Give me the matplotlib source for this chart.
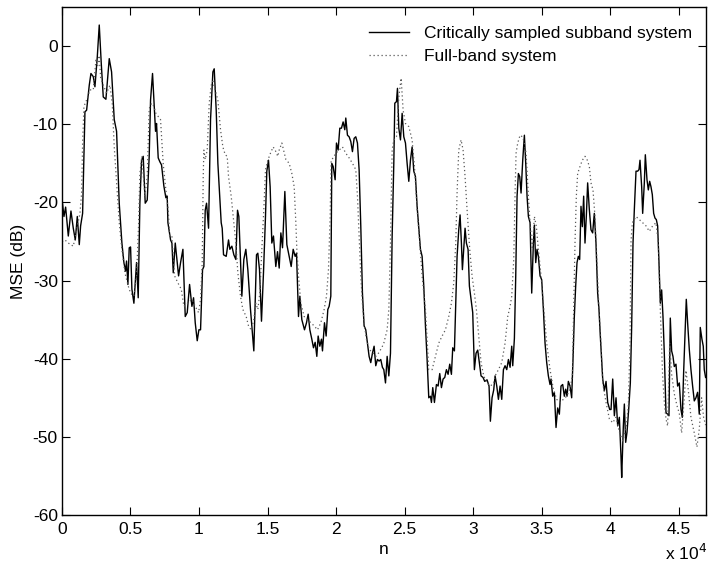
import numpy as np
import matplotlib
matplotlib.use("Agg")
from matplotlib import pyplot as plt
from matplotlib.ticker import FuncFormatter

plt.rcParams['font.family'] = ['Liberation Sans', 'DejaVu Sans']
plt.rcParams['axes.unicode_minus'] = False

# Critically sampled subband system (n, MSE dB)
sub_n = [0, 146, 267, 462, 656, 826, 972, 1118, 1263, 1361, 1506, 1677, 1798, 1992,
         2114, 2284, 2406, 2576, 2721, 2867, 3013, 3207, 3450, 3620, 3815, 3985, 4179,
         4374, 4520, 4641, 4714, 4811, 4908, 5006, 5103, 5249, 5443, 5564, 5686, 5808,
         5929, 6075, 6221, 6366, 6464, 6609, 6731, 6828, 6901, 7023, 7144, 7266, 7436,
         7582, 7679, 7732, 7926, 8024, 8121, 8267, 8510, 8655, 8826, 8996, 9141, 9312,
         9482, 9603, 9725, 9870, 9992, 10113, 10259, 10356, 10454, 10551, 10697, 10842,
         11013, 11110, 11256, 11377, 11620, 11693, 11790, 11985, 12155, 12252, 12398,
         12543, 12689, 12811, 12908, 13127, 13272, 13418, 13564, 13758, 14001, 14099,
         14196, 14293, 14415, 14560, 14706, 14852, 14949, 15071, 15192, 15314, 15435,
         15605, 15731, 15852, 15974, 16095, 16265, 16411, 16581, 16727, 16873, 17018,
         17116, 17261, 17359, 17504, 17699, 17845, 17966, 18088, 18233, 18355, 18476,
         18598, 18695, 18817, 18938, 19011, 19157, 19278, 19400, 19497, 19619, 19691,
         19789, 19934, 20032, 20153, 20275, 20396, 20518, 20639, 20712, 20834, 20955,
         21077, 21198, 21320, 21441, 21563, 21684, 21806, 21927, 22049, 22170, 22292,
         22413, 22535, 22656, 22778, 22899, 23021, 23142, 23264, 23385, 23487, 23609,
         23730, 23852, 23973, 24095, 24216, 24289, 24410, 24483, 24581, 24702, 24824,
         24945, 25067, 25188, 25310, 25431, 25553, 25674, 25796, 25917, 26039, 26160,
         26282, 26403, 26525, 26646, 26768, 26889, 26962, 27059, 27181, 27326, 27448,
         27569, 27691, 27812, 27934, 28055, 28177, 28298, 28420, 28517, 28639, 28736,
         28833, 28955, 29052, 29149, 29222, 29344, 29416, 29513, 29635, 29732, 29854,
         29975, 30097, 30218, 30340, 30461, 30583, 30728, 30850, 31020, 31166, 31263,
         31385, 31506, 31607, 31729, 31850, 31972, 32093, 32215, 32336, 32458, 32579,
         32701, 32822, 32895, 33016, 33114, 33211, 33308, 33405, 33502, 33624, 33745,
         33843, 33940, 34037, 34159, 34280, 34402, 34474, 34572, 34669, 34766, 34888,
         35009, 35131, 35252, 35374, 35495, 35617, 35689, 35811, 35932, 36054, 36175,
         36297, 36418, 36540, 36661, 36759, 36856, 36953, 37075, 37196, 37293, 37390,
         37488, 37585, 37682, 37779, 37876, 37974, 38071, 38168, 38265, 38362, 38484,
         38605, 38727, 38848, 38970, 39091, 39189, 39286, 39383, 39461, 39582, 39704,
         39825, 39971, 40068, 40190, 40311, 40433, 40554, 40676, 40797, 40846, 40967,
         41040, 41137, 41234, 41356, 41477, 41575, 41672, 41769, 41891, 42012, 42109,
         42182, 42304, 42377, 42498, 42571, 42692, 42790, 42887, 42984, 43081, 43178,
         43276, 43373, 43470, 43567, 43664, 43762, 43859, 43956, 44078, 44199, 44296,
         44393, 44491, 44588, 44685, 44807, 44928, 45050, 45171, 45268, 45365, 45487,
         45560, 45657, 45779, 45900, 46022, 46143, 46265, 46386, 46508, 46580, 46702,
         46799, 46872, 46969]
sub_db = [-19.5, -21.8, -20.6, -24.3, -21.1, -23.3, -24.8, -21.8, -25.4, -23.0, -21.4,
          -8.4, -8.2, -5.0, -3.5, -3.9, -5.2, -1.4, 2.7, -2.2, -6.5, -6.8, -1.6, -3.3,
          -9.4, -10.9, -20.1, -25.2, -27.7, -28.8, -27.5, -30.5, -25.8, -25.7, -31.1,
          -32.9, -27.7, -32.2, -20.1, -14.6, -14.1, -20.1, -19.7, -14.1, -6.9, -3.5,
          -7.7, -10.9, -9.9, -14.3, -14.8, -15.2, -17.9, -19.4, -19.2, -22.6, -24.8,
          -25.2, -29.0, -25.2, -29.4, -27.7, -26.0, -34.6, -34.1, -30.5, -33.3, -32.2,
          -35.4, -37.7, -36.3, -36.3, -28.6, -28.2, -21.0, -20.1, -23.3, -9.4, -3.3,
          -2.9, -8.2, -15.0, -22.6, -23.3, -26.7, -26.9, -24.8, -26.0, -25.6, -26.7,
          -27.3, -21.0, -21.8, -32.0, -27.3, -26.0, -28.6, -33.7, -39.0, -32.9, -26.7,
          -26.5, -28.6, -35.2, -29.0, -21.8, -16.0, -14.6, -18.0, -25.2, -24.3, -28.2,
          -26.3, -28.4, -23.9, -25.8, -18.6, -25.4, -26.9, -28.2, -26.0, -26.9, -26.5,
          -34.6, -32.0, -35.0, -36.3, -35.4, -34.3, -36.3, -37.5, -38.6, -37.9, -39.7,
          -37.1, -38.4, -37.5, -39.0, -35.4, -37.1, -33.7, -33.3, -32.0, -15.0, -15.4,
          -17.1, -12.4, -13.3, -10.5, -10.5, -9.7, -10.7, -9.2, -11.4, -11.6, -12.2,
          -13.5, -11.8, -11.6, -12.4, -15.8, -23.0, -31.6, -35.8, -36.3, -38.0, -39.7,
          -40.5, -39.3, -38.4, -40.9, -40.1, -40.3, -40.1, -41.1, -41.4, -43.1, -39.7,
          -42.2, -39.3, -24.3, -15.0, -7.3, -7.1, -5.4, -10.5, -12.0, -8.6, -11.6,
          -12.4, -15.0, -17.3, -14.6, -12.9, -16.0, -16.7, -20.5, -23.3, -26.0, -26.9,
          -30.7, -35.8, -40.1, -45.0, -44.8, -45.6, -43.7, -45.6, -43.3, -43.5, -41.9,
          -43.7, -42.6, -42.4, -41.4, -42.0, -40.7, -42.0, -38.6, -39.0, -32.9, -26.9,
          -23.5, -21.6, -25.2, -28.6, -25.2, -23.3, -25.2, -26.0, -30.7, -32.4, -34.1,
          -41.4, -39.3, -38.9, -40.5, -42.2, -42.4, -42.9, -42.7, -43.5, -48.0, -45.0,
          -44.0, -42.2, -43.5, -45.2, -43.5, -45.2, -41.4, -40.9, -41.4, -40.1, -41.1,
          -38.4, -40.9, -37.4, -29.4, -19.2, -16.3, -16.7, -18.8, -14.6, -11.4, -15.0,
          -19.2, -21.8, -22.6, -31.6, -25.2, -22.9, -27.7, -26.0, -26.9, -29.4, -29.9,
          -33.7, -38.0, -40.5, -42.2, -43.3, -42.6, -44.8, -44.3, -48.8, -46.3, -47.1,
          -43.5, -43.3, -44.8, -43.9, -44.8, -42.9, -43.5, -45.0, -40.1, -34.6, -30.7,
          -27.7, -26.9, -27.3, -20.5, -23.1, -19.2, -25.2, -21.8, -17.5, -20.9, -23.5,
          -23.9, -21.4, -25.2, -31.6, -33.7, -37.1, -40.1, -42.6, -44.1, -42.9, -45.6,
          -46.5, -46.5, -42.6, -47.3, -45.0, -48.6, -47.5, -52.6, -55.2, -48.6, -45.8,
          -50.7, -49.4, -46.5, -43.1, -35.8, -25.2, -20.9, -16.0, -16.0, -15.8, -14.6,
          -18.0, -21.4, -17.5, -13.9, -17.1, -18.4, -17.3, -18.0, -19.0, -21.4, -22.0,
          -22.2, -23.0, -27.7, -32.9, -31.2, -34.6, -39.3, -46.9, -47.1, -47.3, -34.8,
          -39.0, -39.7, -41.0, -40.7, -43.5, -43.1, -46.5, -47.5, -41.8, -35.8, -32.4,
          -35.4, -38.8, -41.4, -43.5, -45.4, -45.0, -44.3, -47.1, -36.0, -37.5, -38.4,
          -41.4, -42.4]

# Full-band system (n, MSE dB)
full_n = [0, 219, 462, 826, 1069, 1312, 1434, 1506, 1604, 1798, 2041, 2284, 2478, 2600,
          2721, 2819, 3013, 3256, 3499, 3669, 3815, 3985, 4179, 4374, 4593, 4836, 5006,
          5249, 5443, 5589, 5686, 5832, 6051, 6221, 6366, 6537, 6707, 6852, 7023, 7193,
          7387, 7582, 7752, 7853, 8024, 8218, 8461, 8704, 8898, 9190, 9482, 9725, 9968,
          10113, 10235, 10308, 10356, 10454, 10599, 10745, 10891, 11013, 11183, 11377,
          11571, 11742, 11912, 12058, 12155, 12349, 12543, 12689, 12835, 13029, 13200,
          13443, 13613, 13807, 14001, 14147, 14293, 14439, 14585, 14730, 14852, 15022,
          15216, 15411, 15557, 15751, 15852, 16046, 16338, 16581, 16775, 16946, 17067,
          17140, 17261, 17432, 17675, 17918, 18161, 18404, 18647, 18890, 19133, 19303,
          19448, 19570, 19643, 19789, 19983, 20226, 20469, 20712, 20955, 21198, 21441,
          21563, 21684, 21806, 21927, 22049, 22219, 22413, 22656, 22899, 23142, 23385,
          23487, 23730, 23852, 23973, 24095, 24216, 24410, 24581, 24751, 24896, 25067,
          25310, 25553, 25723, 25917, 26111, 26282, 26525, 26768, 27011, 27254, 27497,
          27740, 27983, 28226, 28420, 28590, 28736, 28833, 28955, 29125, 29271, 29416,
          29562, 29757, 29927, 30097, 30243, 30413, 30583, 30777, 31020, 31263, 31506,
          31607, 31850, 32093, 32336, 32530, 32701, 32822, 32968, 33065, 33138, 33259,
          33430, 33600, 33721, 33867, 34037, 34159, 34329, 34474, 34620, 34766, 34960,
          35131, 35374, 35617, 35860, 36103, 36346, 36589, 36832, 37075, 37245, 37342,
          37439, 37536, 37633, 37804, 37974, 38168, 38338, 38484, 38605, 38751, 38897,
          39043, 39189, 39334, 39461, 39704, 39947, 40190, 40433, 40676, 40919, 41162,
          41332, 41453, 41526, 41623, 41891, 42134, 42377, 42620, 42863, 43106, 43349,
          43519, 43664, 43834, 43956, 44078, 44199, 44345, 44491, 44685, 44880, 45050,
          45220, 45414, 45536, 45706, 45900, 46143, 46337, 46508, 46678, 46823, 46969]
full_db = [-25.0, -24.8, -25.2, -25.6, -23.5, -21.4, -18.8, -12.4, -7.7, -6.9, -5.6,
           -5.6, -1.8, -2.6, -1.2, -4.0, -5.0, -6.0, -5.0, -7.3, -12.9, -17.5, -22.6,
           -26.0, -29.0, -30.7, -31.6, -32.0, -29.4, -23.0, -16.3, -14.1, -19.2, -16.7,
           -8.0, -7.3, -7.7, -8.6, -9.0, -9.4, -15.0, -18.4, -20.9, -24.3, -24.3, -29.4,
           -30.3, -31.1, -33.3, -32.9, -32.4, -33.3, -34.1, -32.4, -27.7, -16.7, -13.3,
           -14.5, -13.3, -7.3, -5.0, -4.5, -5.6, -6.9, -10.7, -12.9, -13.9, -14.1, -16.7,
           -19.2, -22.6, -25.2, -29.0, -32.0, -33.7, -34.6, -35.8, -36.3, -35.0, -32.9,
           -33.7, -31.6, -26.0, -20.9, -15.8, -14.6, -13.7, -12.9, -13.3, -14.1, -13.3,
           -12.4, -14.5, -15.0, -16.3, -18.0, -22.6, -26.0, -29.4, -32.9, -34.6, -35.0,
           -35.4, -35.8, -36.3, -35.4, -33.7, -32.0, -28.6, -21.8, -14.6, -14.3, -13.7,
           -13.3, -12.9, -13.7, -14.3, -15.0, -15.8, -19.2, -24.3, -29.4, -32.9, -35.4,
           -37.5, -38.8, -39.2, -39.7, -39.2, -38.4, -38.0, -36.3, -33.7, -25.2, -13.3,
           -12.0, -11.6, -6.5, -4.1, -8.2, -9.9, -10.3, -12.0, -15.4, -20.9, -25.2, -29.4,
           -33.7, -41.4, -41.4, -39.7, -38.0, -37.1, -36.3, -34.6, -32.9, -30.3, -25.2,
           -18.8, -13.3, -12.0, -13.3, -16.7, -20.9, -26.0, -29.4, -31.6, -33.7, -37.1,
           -40.5, -42.2, -43.1, -43.5, -43.1, -42.2, -41.4, -40.5, -38.0, -34.6, -33.3,
           -32.0, -27.3, -18.8, -13.7, -12.4, -11.4, -11.6, -12.2, -13.7, -19.2, -22.6,
           -26.0, -21.8, -23.1, -26.0, -29.4, -32.9, -38.0, -41.4, -43.9, -45.2, -45.6,
           -45.2, -44.8, -43.9, -42.2, -33.7, -25.2, -19.2, -16.3, -15.4, -14.6, -14.1,
           -14.6, -15.4, -17.5, -18.4, -21.8, -27.7, -33.7, -38.0, -43.1, -45.6, -47.7,
           -48.2, -47.5, -49.4, -50.5, -49.0, -46.0, -38.0, -25.0, -22.6, -21.8, -22.2,
           -22.6, -23.0, -23.7, -23.0, -22.6, -25.2, -33.7, -42.2, -45.6, -47.7, -48.6,
           -38.0, -42.0, -44.5, -46.0, -47.0, -49.5, -45.0, -41.5, -44.0, -47.5, -49.5,
           -51.3, -49.0, -45.0, -47.5, -48.5]

x_ticks = [0, 5000, 10000, 15000, 20000, 25000, 30000, 35000, 40000, 45000]
y_ticks = [-60, -50, -40, -30, -20, -10, 0]

fig = plt.figure(figsize=(7.09, 5.65), dpi=100)
ax = fig.add_axes([0.0874, 0.0885, 0.9084, 0.899])

ax.plot(sub_n, sub_db, color='black', linewidth=1.0, label='Critically sampled subband system')
ax.plot(full_n, full_db, color='0.35', linestyle=(0, (1, 2.2)), linewidth=0.9, label='Full-band system')

ax.set_xlim(0, 47000)
ax.set_ylim(-60, 5)
ax.set_xticks(x_ticks)
ax.set_yticks(y_ticks)
ax.xaxis.set_major_formatter(FuncFormatter(lambda v, p: f"{v / 1e4:g}"))
ax.tick_params(direction='in', top=True, right=True, length=6, width=0.8,
               labelsize=12.5, pad=3)
ax.tick_params(axis='x', pad=5)
for s in ax.spines.values():
    s.set_linewidth(1.0)

ax.set_xlabel('n', fontsize=12.5, labelpad=4)
ax.set_ylabel('MSE (dB)', fontsize=12.5, labelpad=5)
fig.text(0.997, 0.008, r'x 10$^4$', ha='right', va='baseline', fontsize=12.5)

ax.legend(loc='upper right', frameon=False, fontsize=12.5, handlelength=2.35,
          handletextpad=0.85, labelspacing=0.45, bbox_to_anchor=(1.003, 0.993))

fig.savefig('out.png', dpi=100)
